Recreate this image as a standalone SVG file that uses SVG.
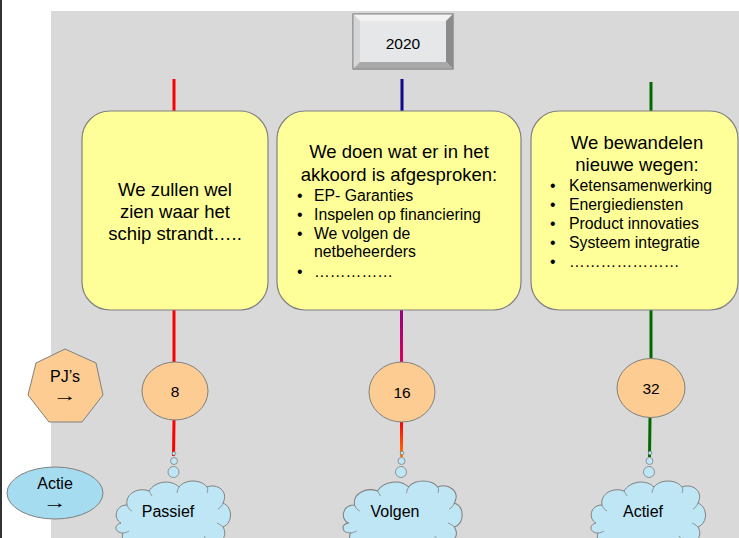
<svg xmlns="http://www.w3.org/2000/svg" width="739" height="538" viewBox="0 0 739 538">
<style>
text{font-family:"Liberation Sans",Arial,sans-serif;fill:#000}
.arrow{font-family:"Liberation Sans",Arial,sans-serif;font-size:16px;text-anchor:middle}
.box{fill:#ffff99;stroke:#808080;stroke-width:1.2}
.t18{font-size:18.5px;text-anchor:middle}
.b16{font-size:15.8px}
.mid{text-anchor:middle}
.num{fill:#fccc92;stroke:#808080;stroke-width:1}
.cloud{fill:#bfe6f5;stroke:#808080;stroke-width:1}
.crease{fill:none;stroke:#808080;stroke-width:0.8}
.bub{fill:#bfe6f5;stroke:#808080;stroke-width:0.8}
.ln{stroke-width:3;fill:none}
</style>
<defs>
<linearGradient id="gPurple" x1="0" y1="0" x2="0" y2="1">
<stop offset="0" stop-color="#93007f"/>
<stop offset="1" stop-color="#e0005a"/>
</linearGradient>
<linearGradient id="gOrange" x1="0" y1="0" x2="0" y2="1">
<stop offset="0" stop-color="#ff0000"/>
<stop offset="1" stop-color="#ff7a00"/>
</linearGradient>
<path id="cloudShape" d="M 8 44 C 0 40, 2 26, 14 26 C 12 14, 26 8, 36 12 C 42 2, 58 0, 66 8 C 72 0, 88 0, 94 8 C 104 4, 116 12, 110 24 C 120 28, 120 44, 110 48 C 116 58, 106 68, 94 64 C 90 74, 72 76, 64 68 C 56 76, 36 76, 30 66 C 20 70, 6 64, 10 54 C 2 54, 0 46, 8 44 Z"/>
<path id="cloudCrease" d="M 14 26 C 15 29, 17 31, 19 32 M 36 12 C 37 14, 38 15, 39 17 M 66 8 C 65 10, 64 12, 64 14 M 94 8 C 95 10, 95 12, 94 14 M 110 24 C 109 27, 107 29, 105 30 M 110 48 C 108 46, 106 45, 104 44 M 94 64 C 94 61, 93 59, 91 57 M 64 68 C 63 66, 63 64, 64 62 M 30 66 C 32 65, 33 63, 34 61 M 10 54 C 12 54, 14 53, 16 52"/>
</defs>

<rect x="0" y="0" width="739" height="538" fill="#ffffff"/>
<rect x="0" y="0" width="2" height="538" fill="#333333"/>
<rect x="51" y="11" width="688" height="527" fill="#d9d9d9"/>

<g id="connectors">
<line class="ln" x1="174" y1="79" x2="174" y2="111" stroke="#ff0000"/>
<line class="ln" x1="402" y1="79" x2="402" y2="111" stroke="#0a0a8a"/>
<line class="ln" x1="651" y1="82" x2="651" y2="111" stroke="#006a00"/>
<line class="ln" x1="174" y1="310" x2="174" y2="362" stroke="#ff0000"/>
<line class="ln" x1="174" y1="420" x2="173.5" y2="456" stroke="#ff0000"/>
<rect x="400" y="310" width="3" height="52" fill="url(#gPurple)"/>
<rect x="400" y="422" width="3" height="35" fill="url(#gOrange)"/>
<line class="ln" x1="651" y1="310" x2="651" y2="358" stroke="#006a00"/>
<line class="ln" x1="650" y1="417" x2="649.5" y2="457" stroke="#006a00"/>
</g>

<g id="year">
<rect x="353" y="14" width="100" height="55" fill="#e6e7e9" stroke="#8c8c8c" stroke-width="1"/>
<polygon points="353,14 453,14 446,21 360,21" fill="#f2f2f2"/>
<polygon points="353,14 360,21 360,62 353,69" fill="#d6d6d6"/>
<polygon points="453,14 453,69 446,62 446,21" fill="#8c8c8c"/>
<polygon points="353,69 360,62 446,62 453,69" fill="#a9a9a9"/>
<rect x="353" y="14" width="100" height="55" fill="none" stroke="#8c8c8c" stroke-width="1"/>
<text x="403" y="49" class="mid" font-size="15.5">2020</text>
</g>

<g id="box1">
<rect class="box" x="82" y="111" width="186" height="199" rx="28" ry="28"/>
<text class="t18" x="175" y="196">We zullen wel</text>
<text class="t18" x="175" y="218">zien waar het</text>
<text class="t18" x="175" y="240">schip strandt…..</text>
</g>

<g id="box2">
<rect class="box" x="277" y="111" width="244" height="199" rx="28" ry="28"/>
<text class="t18" x="399" y="158">We doen wat er in het</text>
<text class="t18" x="399" y="181">akkoord is afgesproken:</text>
<g class="b16">
<text x="297" y="201">•</text><text x="314" y="201">EP- Garanties</text>
<text x="297" y="220">•</text><text x="314" y="220">Inspelen op financiering</text>
<text x="297" y="239">•</text><text x="314" y="239">We volgen de</text>
<text x="314" y="257">netbeheerders</text>
<text x="297" y="277">•</text><text x="314" y="277">……………</text>
</g>
</g>

<g id="box3">
<rect class="box" x="531" y="111" width="207" height="199" rx="28" ry="28"/>
<text class="t18" x="637" y="149">We bewandelen</text>
<text class="t18" x="637" y="171">nieuwe wegen:</text>
<g class="b16">
<text x="550" y="191">•</text><text x="569" y="191">Ketensamenwerking</text>
<text x="550" y="210">•</text><text x="569" y="210">Energiediensten</text>
<text x="550" y="229">•</text><text x="569" y="229">Product innovaties</text>
<text x="550" y="248">•</text><text x="569" y="248">Systeem integratie</text>
<text x="550" y="267">•</text><text x="569" y="267">…………………</text>
</g>
</g>

<g id="pjs">
<polygon points="65,349 96,363 103,395 82,422 49,422 28,395 36,363" fill="#fccc92" stroke="#808080" stroke-width="1"/>
<text x="65" y="382" class="mid" font-size="16">PJ’s</text>
<text class="arrow" transform="translate(65,401) scale(1.5,1)">→</text>
</g>

<g id="actie">
<ellipse cx="55" cy="493" rx="48" ry="26" fill="#a6dcf0" stroke="#808080" stroke-width="1"/>
<text x="55" y="489" class="mid" font-size="16">Actie</text>
<text class="arrow" transform="translate(55,508) scale(1.5,1)">→</text>
</g>

<g id="num8">
<ellipse class="num" cx="175" cy="391" rx="33" ry="29"/>
<text x="175" y="397" class="mid" font-size="15.5">8</text>
</g>
<g id="num16">
<ellipse class="num" cx="402" cy="392" rx="33" ry="30"/>
<text x="402" y="398" class="mid" font-size="15.5">16</text>
</g>
<g id="num32">
<ellipse class="num" cx="651" cy="388" rx="34" ry="29.5"/>
<text x="651" y="394" class="mid" font-size="15.5">32</text>
</g>

<g id="passief">
<circle class="bub" cx="174" cy="453.5" r="1.8"/>
<circle class="bub" cx="174" cy="461" r="3.5"/>
<circle class="bub" cx="173.5" cy="472" r="5.5"/>
<g transform="translate(113,479)">
<use href="#cloudShape" class="cloud"/>
<use href="#cloudCrease" class="crease"/>
</g>
<text x="168" y="517" class="mid" font-size="16">Passief</text>
</g>

<g id="volgen">
<circle class="bub" cx="402" cy="453" r="1.8"/>
<circle class="bub" cx="401.5" cy="461" r="3.5"/>
<circle class="bub" cx="401" cy="472" r="5.5"/>
<g transform="translate(340,479) scale(1.04,1)">
<use href="#cloudShape" class="cloud"/>
<use href="#cloudCrease" class="crease"/>
</g>
<text x="395" y="517" class="mid" font-size="16">Volgen</text>
</g>

<g id="actief">
<circle class="bub" cx="650" cy="453" r="1.8"/>
<circle class="bub" cx="649.5" cy="461" r="3.5"/>
<circle class="bub" cx="649" cy="472" r="5.5"/>
<g transform="translate(588,479)">
<use href="#cloudShape" class="cloud"/>
<use href="#cloudCrease" class="crease"/>
</g>
<text x="643" y="517" class="mid" font-size="16">Actief</text>
</g>
</svg>
